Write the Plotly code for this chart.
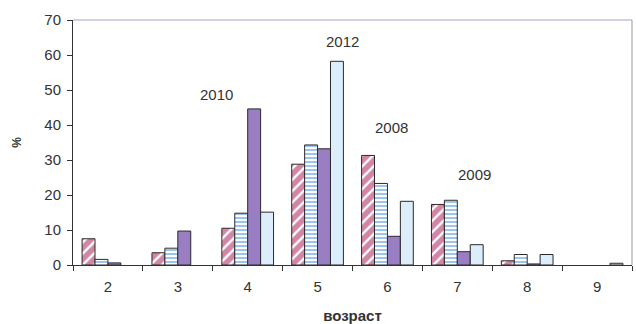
import plotly.graph_objects as go

ages = ["2", "3", "4", "5", "6", "7", "8", "9"]
years = ["2008", "2009", "2010", "2012"]
share_2008 = [7.5, 3.5, 10.5, 28.8, 31.3, 17.3, 1.2, None]
share_2009 = [1.6, 4.8, 14.8, 34.3, 23.3, 18.5, 3.0, None]
share_2010 = [0.6, 9.7, 44.6, 33.2, 8.2, 3.8, 0.3, None]
share_2012 = [None, None, 15.1, 58.2, 18.2, 5.8, 3.0, 0.5]

# label positions (category index, %) for the year captions
label_x = [4.06, 5.25, 1.56, 3.36]
label_y = [39.2, 25.8, 48.8, 63.8]

edge = dict(color="#2a2a2a", width=1)
styles = [
    dict(color="white", line=edge,
         pattern=dict(shape="/", size=8, solidity=0.7, fgcolor="#A80C4C", bgcolor="white")),
    dict(color="white", line=edge,
         pattern=dict(shape="-", size=4, solidity=0.5, fgcolor="#3A8AE2", bgcolor="white")),
    dict(color="#9A7EC4", line=edge),
    dict(color="#DCEEFB", line=edge),
]
series = [share_2008, share_2009, share_2010, share_2012]

fig = go.Figure()
for name, vals, st in zip(years, series, styles):
    fig.add_trace(go.Bar(x=ages, y=vals, name=name, marker=st))

font = dict(family="Liberation Sans, Arial, sans-serif", size=15, color="#333333")

for name, lx, ly in zip(years, label_x, label_y):
    fig.add_annotation(x=lx, y=ly, xref="x", yref="y", text=name,
                       showarrow=False, font=font)

fig.update_layout(
    width=636, height=324,
    margin=dict(l=73, r=4, t=20, b=59, autoexpand=False),
    paper_bgcolor="white", plot_bgcolor="white",
    barmode="group", bargap=0.26, bargroupgap=0,
    showlegend=False,
    font=font,
    xaxis=dict(
        type="category", tickson="boundaries", ticks="outside", ticklen=5,
        tickcolor="#333", showline=True, linecolor="#333", linewidth=1,
        ticklabelstandoff=8,
        showgrid=False, title=dict(text="<b>возраст</b>", standoff=16,
                                    font=dict(size=15, color="#333")),
    ),
    yaxis=dict(
        range=[0, 70], dtick=10, ticks="outside", ticklen=5, tickcolor="#333",
        showline=True, linecolor="#333", linewidth=1, showgrid=False,
        ticklabelstandoff=3,
        zeroline=False, title=dict(text="<b>%</b>", standoff=20, font=dict(size=12)),
    ),
    shapes=[
        dict(type="line", xref="paper", yref="paper", x0=0, x1=1, y0=1, y1=1,
             line=dict(color="#A9A0D0", width=1)),
        dict(type="line", xref="paper", yref="paper", x0=1, x1=1, y0=0, y1=1,
             line=dict(color="#999999", width=1)),
    ],
)

fig.write_html("out.html")
